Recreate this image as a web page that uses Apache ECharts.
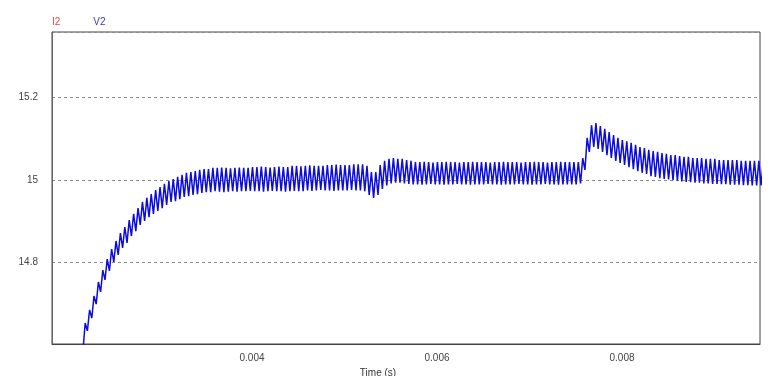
<!DOCTYPE html>
<html>
<head>
<meta charset="utf-8">
<script src="https://cdn.jsdelivr.net/npm/echarts@6/dist/echarts.min.js"></script>
<style>
html,body{margin:0;padding:0;background:#fff;}
#chart{width:776px;height:376px;}
</style>
</head>
<body>
<div id="chart"></div>
<script>
// ---- data ----
var legendNames = ['I2', 'V2'];
var xTickValues = [0.004, 0.006, 0.008];
var yTickValues = [14.8, 15, 15.2];
var xRange = [0.001838, 0.009492];
var yRange = [14.6, 15.36];
// switching-ripple samples of V2: one valley and one peak per switching cycle
var t0 = 0.002173;          // time of first valley (s)
var period = 0.0000476;     // switching period (s)
var valleyV = [
  14.585, 14.632, 14.663, 14.697, 14.727, 14.756, 14.778, 14.800, 14.817, 14.834,
  14.846, 14.863, 14.875, 14.890, 14.900, 14.909, 14.917, 14.924, 14.931, 14.939,
  14.946, 14.948, 14.953, 14.958, 14.960, 14.963, 14.965, 14.968, 14.970, 14.970,
  14.972, 14.971, 14.970, 14.971, 14.972, 14.971, 14.972, 14.972, 14.973, 14.972,
  14.972, 14.971, 14.972, 14.973, 14.972, 14.972, 14.971, 14.972, 14.973, 14.972,
  14.972, 14.974, 14.973, 14.974, 14.975, 14.974, 14.974, 14.973, 14.974, 14.974,
  14.974, 14.975, 14.974, 14.974, 14.972, 14.963, 14.956, 14.963, 14.978, 14.986,
  14.991, 14.993, 14.993, 14.991, 14.990, 14.989, 14.989, 14.988, 14.989, 14.990,
  14.989, 14.989, 14.988, 14.989, 14.989, 14.990, 14.989, 14.989, 14.988, 14.989,
  14.989, 14.989, 14.990, 14.989, 14.989, 14.988, 14.989, 14.989, 14.989, 14.990,
  14.989, 14.989, 14.988, 14.989, 14.989, 14.990, 14.989, 14.989, 14.988, 14.989,
  14.989, 14.989, 14.989, 14.991, 15.024, 15.068, 15.080, 15.075, 15.068, 15.060,
  15.053, 15.046, 15.041, 15.036, 15.031, 15.026, 15.021, 15.017, 15.014, 15.009,
  15.007, 15.004, 15.002, 15.001, 14.999, 14.998, 14.996, 14.995, 14.994, 14.993,
  14.993, 14.991, 14.991, 14.990, 14.990, 14.989, 14.989, 14.988, 14.988, 14.988,
  14.987, 14.987, 14.986, 14.986, 14.986
];
var peakV = [
  14.651, 14.683, 14.717, 14.751, 14.780, 14.807, 14.831, 14.851, 14.870, 14.885,
  14.902, 14.917, 14.931, 14.946, 14.956, 14.965, 14.975, 14.982, 14.990, 14.997,
  15.002, 15.007, 15.012, 15.017, 15.019, 15.021, 15.024, 15.026, 15.026, 15.029,
  15.029, 15.030, 15.029, 15.028, 15.029, 15.030, 15.029, 15.029, 15.031, 15.031,
  15.032, 15.031, 15.030, 15.031, 15.032, 15.031, 15.031, 15.034, 15.034, 15.033,
  15.034, 15.035, 15.034, 15.034, 15.034, 15.036, 15.036, 15.037, 15.036, 15.036,
  15.036, 15.038, 15.038, 15.038, 15.034, 15.019, 15.019, 15.036, 15.046, 15.051,
  15.053, 15.051, 15.051, 15.048, 15.046, 15.043, 15.043, 15.044, 15.043, 15.042,
  15.043, 15.043, 15.044, 15.043, 15.043, 15.042, 15.043, 15.043, 15.044, 15.043,
  15.043, 15.043, 15.042, 15.043, 15.043, 15.044, 15.043, 15.043, 15.043, 15.042,
  15.043, 15.043, 15.044, 15.043, 15.043, 15.042, 15.043, 15.043, 15.044, 15.043,
  15.043, 15.043, 15.043, 15.053, 15.102, 15.133, 15.138, 15.131, 15.124, 15.116,
  15.109, 15.102, 15.097, 15.094, 15.090, 15.085, 15.080, 15.077, 15.073, 15.070,
  15.068, 15.065, 15.063, 15.060, 15.060, 15.058, 15.056, 15.056, 15.053, 15.053,
  15.053, 15.051, 15.051, 15.051, 15.048, 15.048, 15.048, 15.048, 15.048, 15.046,
  15.046, 15.046, 15.046, 15.046, 15.043
];

// ---- build series data ----
var v2Data = [];
var n = Math.min(valleyV.length, peakV.length);
for (var i = 0; i < n; i++) {
  v2Data.push([t0 + i * period, valleyV[i]]);
  v2Data.push([t0 + (i + 0.5) * period, peakV[i]]);
}

var gridStyle = { color: '#8a8a8a', type: [3, 3], width: 1 };
var fontFam = '"Liberation Sans", Arial, sans-serif';

var chart = echarts.init(document.getElementById('chart'), null, { renderer: 'canvas' });
chart.setOption({
  animation: false,
  backgroundColor: '#ffffff',
  legend: {
    left: 42,
    top: 12,
    icon: 'none',
    itemWidth: 0,
    itemHeight: 10,
    itemGap: 28,
    selectedMode: false,
    textStyle: { fontSize: 10, fontFamily: fontFam },
    data: [
      { name: legendNames[0], textStyle: { color: '#e04848' } },
      { name: legendNames[1], textStyle: { color: '#3a3ad0' } }
    ]
  },
  grid: {
    left: 52, right: 16, top: 32, bottom: 32,
    outerBoundsMode: 'none',
    containLabel: false,
    show: true, borderColor: '#444', borderWidth: 1, backgroundColor: '#fff'
  },
  xAxis: {
    type: 'value',
    min: xRange[0], max: xRange[1],
    name: 'Time (s)',
    nameLocation: 'middle',
    nameGap: 24,
    nameTextStyle: { fontSize: 10, color: '#333', fontFamily: fontFam, padding: [0, 56, 0, 0] },
    axisLine: { show: true, lineStyle: { color: '#444', width: 1 } },
    axisTick: { show: false, customValues: xTickValues },
    splitLine: { show: false },
    axisLabel: {
      customValues: xTickValues,
      fontSize: 10, color: '#444', margin: 9, fontFamily: fontFam,
      formatter: function (v) { return String(+v.toFixed(4)); }
    }
  },
  yAxis: {
    type: 'value',
    min: yRange[0], max: yRange[1],
    interval: 0.2,
    axisLine: { show: true, lineStyle: { color: '#666', width: 1 } },
    axisTick: { show: false },
    splitLine: { show: true, lineStyle: gridStyle },
    axisLabel: {
      showMinLabel: false, showMaxLabel: false,
      fontSize: 10, color: '#444', margin: 14, fontFamily: fontFam,
      formatter: function (v) { return String(+v.toFixed(3)); }
    }
  },
  series: [
    {
      name: legendNames[0], type: 'line', data: [],
      color: '#e04848', showSymbol: false
    },
    {
      name: legendNames[1], type: 'line', data: v2Data,
      color: '#0c0cdc', showSymbol: false, clip: true,
      lineStyle: { width: 1.5, color: '#0c0cdc' },
      markLine: {
        silent: true, symbol: 'none', label: { show: false },
        lineStyle: gridStyle,
        data: xTickValues.map(function (v) { return { xAxis: v }; })
      }
    }
  ]
});
</script>
</body>
</html>
